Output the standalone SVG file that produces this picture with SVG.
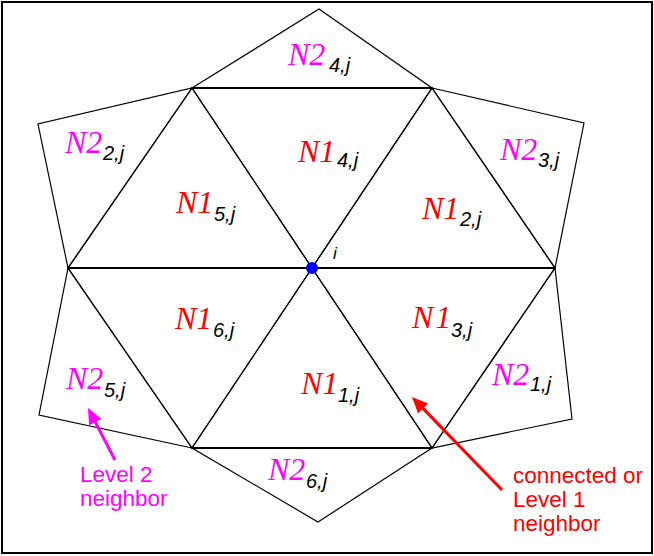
<svg xmlns="http://www.w3.org/2000/svg" width="654" height="556" viewBox="0 0 654 556">
<style>
.cell{fill:none;stroke:#000;stroke-width:1.2;stroke-linejoin:miter}
.hz{stroke:#000;stroke-width:2}
.m1{font-family:"Liberation Serif",serif;font-style:italic;font-size:32px;fill:#ff0000}
.m2{font-family:"Liberation Serif",serif;font-style:italic;font-size:32px;fill:#ff00ff}
.sb{font-family:"Liberation Sans",sans-serif;font-style:italic;font-size:20px;fill:#000}
.note{font-family:"Liberation Sans",sans-serif;font-size:22.5px}
</style>
<defs>
<marker id="ahR" markerUnits="userSpaceOnUse" markerWidth="17" markerHeight="14" refX="4" refY="7" orient="auto"><path d="M0,0 L16,7 L0,14 z" fill="#ff0000"/></marker>
<marker id="ahM" markerUnits="userSpaceOnUse" markerWidth="17" markerHeight="14" refX="4" refY="7" orient="auto"><path d="M0,0 L16,7 L0,14 z" fill="#ff00ff"/></marker>
</defs>
<rect x="2" y="2" width="650" height="551" fill="#fff" stroke="#000" stroke-width="2"/>
<g id="N2_4"><polygon class="cell" points="192,88 319,9 432,88"/><text class="m2" x="288" y="65">N2</text><text class="sb" x="329" y="72">4,j</text></g>
<g id="N2_3"><polygon class="cell" points="432,88 584,123 555,268"/><text class="m2" x="500" y="160">N2</text><text class="sb" x="538" y="167">3,j</text></g>
<g id="N2_1"><polygon class="cell" points="555,268 572,419 432,448"/><text class="m2" x="492" y="385">N2</text><text class="sb" x="530" y="391">1,j</text></g>
<g id="N2_6"><polygon class="cell" points="432,448 318,522 192,448"/><text class="m2" x="268" y="480">N2</text><text class="sb" x="306" y="488">6,j</text></g>
<g id="N2_5"><polygon class="cell" points="192,448 39,415 68,268"/><text class="m2" x="66" y="389">N2</text><text class="sb" x="104" y="397">5,j</text></g>
<g id="N2_2"><polygon class="cell" points="68,268 38,124 192,88"/><text class="m2" x="65" y="153">N2</text><text class="sb" x="103" y="160">2,j</text></g>
<g id="N1_4"><polygon class="cell" points="192,88 432,88 312,268"/><text class="m1" x="298" y="162">N1</text><text class="sb" x="337" y="167">4,j</text></g>
<g id="N1_2"><polygon class="cell" points="432,88 555,268 312,268"/><text class="m1" x="422" y="219">N1</text><text class="sb" x="460" y="226">2,j</text></g>
<g id="N1_3"><polygon class="cell" points="555,268 432,448 312,268"/><text class="m1" x="412" y="328" letter-spacing="2">N1</text><text class="sb" x="451" y="337">3,j</text></g>
<g id="N1_1"><polygon class="cell" points="432,448 192,448 312,268"/><text class="m1" x="301" y="394">N1</text><text class="sb" x="338" y="402">1,j</text></g>
<g id="N1_6"><polygon class="cell" points="192,448 68,268 312,268"/><text class="m1" x="175" y="329">N1</text><text class="sb" x="213" y="337">6,j</text></g>
<g id="N1_5"><polygon class="cell" points="68,268 192,88 312,268"/><text class="m1" x="176" y="213">N1</text><text class="sb" x="214" y="221">5,j</text></g>
<g id="mesh-horizontals"><line class="hz" x1="192" y1="88" x2="432" y2="88"/><line class="hz" x1="68" y1="268" x2="555" y2="268"/><line class="hz" x1="192" y1="448" x2="432" y2="448"/></g>
<g id="node_i"><circle cx="312" cy="268" r="6" fill="#0000ff"/><text x="333" y="259" font-family="Liberation Sans,sans-serif" font-style="italic" font-size="17">i</text></g>
<g id="connectors">
<line x1="502" y1="490" x2="420.3" y2="405.6" stroke="#ff0000" stroke-width="3" marker-end="url(#ahR)"/>
<line x1="115" y1="460" x2="93.5" y2="418.6" stroke="#ff00ff" stroke-width="3" marker-end="url(#ahM)"/>
</g>
<g id="note-level2" class="note" fill="#ff00ff"><text x="80" y="482">Level 2</text><text x="80" y="506">neighbor</text></g>
<g id="note-level1" class="note" fill="#ff0000"><text x="513" y="483">connected or</text><text x="513" y="507">Level 1</text><text x="513" y="531">neighbor</text></g>
</svg>
